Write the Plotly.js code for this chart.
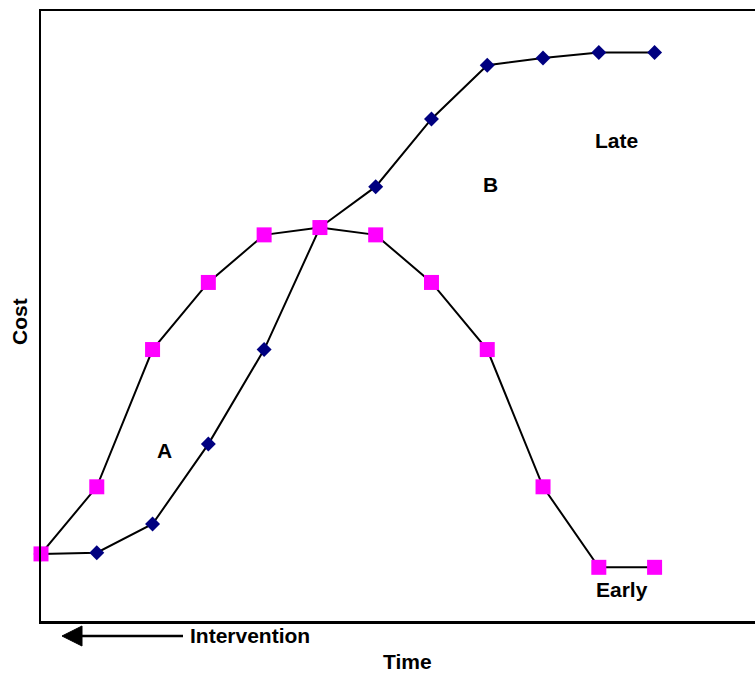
<!DOCTYPE html>
<html>
<head>
<meta charset="utf-8">
<script src="https://cdn.plot.ly/plotly-3.0.1.min.js"></script>
<style>html,body{margin:0;padding:0;background:#fff;}#chart{width:755px;height:675px;}</style>
</head>
<body>
<div id="chart"></div>
<script>
// Time steps (x positions, unlabeled)
const timeSteps = [0, 1, 2, 3, 4, 5, 6, 7, 8, 9, 10, 11];
// Early intervention cost curve (magenta squares)
const earlyCost = [1.1, 2.2, 4.45, 5.55, 6.33, 6.45, 6.33, 5.55, 4.45, 2.2, 0.88, 0.88];
// Late intervention cost curve (navy diamonds)
const lateCost = [1.1, 1.12, 1.59, 2.9, 4.45, 6.45, 7.12, 8.23, 9.11, 9.23, 9.32, 9.32];

const FONT = 'Arial, "Liberation Sans", sans-serif';

const traces = [
  {
    x: timeSteps, y: lateCost, type: 'scatter', mode: 'lines+markers', name: 'Late',
    line: {color: '#000000', width: 2},
    marker: {symbol: 'diamond', size: 11.5, color: '#000080'},
    cliponaxis: false
  },
  {
    x: timeSteps, y: earlyCost, type: 'scatter', mode: 'lines+markers', name: 'Early',
    line: {color: '#000000', width: 2},
    marker: {symbol: 'square', size: 15, color: '#FF00FF'},
    cliponaxis: false
  }
];

const txt = () => ({size: 21, color: '#000', family: FONT});

// pixel -> paper helpers for the plot area (l=41, t=11, w=714, h=610)
const px = (p) => (p - 41) / 714;
const py = (p) => (621 - p) / 610;

const layout = {
  width: 755, height: 675,
  margin: {l: 41, r: 0, t: 11, b: 54, pad: 0},
  paper_bgcolor: '#fff', plot_bgcolor: '#fff',
  showlegend: false,
  xaxis: {range: [0, 12.8], showgrid: false, zeroline: false, showticklabels: false, ticks: '',
          showline: true, linecolor: '#000', linewidth: 2.5, mirror: true},
  yaxis: {range: [0, 10], showgrid: false, zeroline: false, showticklabels: false, ticks: '',
          showline: true, linecolor: '#000', linewidth: 2.5, mirror: false},
  shapes: [
    {type: 'line', xref: 'paper', yref: 'paper', x0: px(80), x1: px(183), y0: py(636), y1: py(636),
     line: {color: '#000', width: 2.5}},
    {type: 'path', xref: 'paper', yref: 'paper',
     path: `M ${px(62)} ${py(636)} L ${px(82)} ${py(626)} L ${px(82)} ${py(646)} Z`,
     fillcolor: '#000', line: {color: '#000', width: 1}}
  ],
  annotations: [
    {x: 2.22, y: 2.79, xref: 'x', yref: 'y', text: '<b>A</b>', showarrow: false, font: txt()},
    {x: 8.05, y: 7.16, xref: 'x', yref: 'y', text: '<b>B</b>', showarrow: false, font: txt()},
    {x: 10.32, y: 7.87, xref: 'x', yref: 'y', text: '<b>Late</b>', showarrow: false, font: txt()},
    {x: 10.41, y: 0.51, xref: 'x', yref: 'y', text: '<b>Early</b>', showarrow: false, font: txt()},
    {x: px(188), y: py(635), xref: 'paper', yref: 'paper', xanchor: 'left', yanchor: 'middle',
     text: '<b>Intervention</b>', showarrow: false, font: txt()},
    {x: px(408), y: py(661), xref: 'paper', yref: 'paper', xanchor: 'center', yanchor: 'middle',
     text: '<b>Time</b>', showarrow: false, font: txt()},
    {x: px(19), y: py(322), xref: 'paper', yref: 'paper', xanchor: 'center', yanchor: 'middle',
     text: '<b>Cost</b>', textangle: -90, showarrow: false, font: txt()}
  ]
};

Plotly.newPlot('chart', traces, layout, {displayModeBar: false, staticPlot: true});
</script>
</body>
</html>
